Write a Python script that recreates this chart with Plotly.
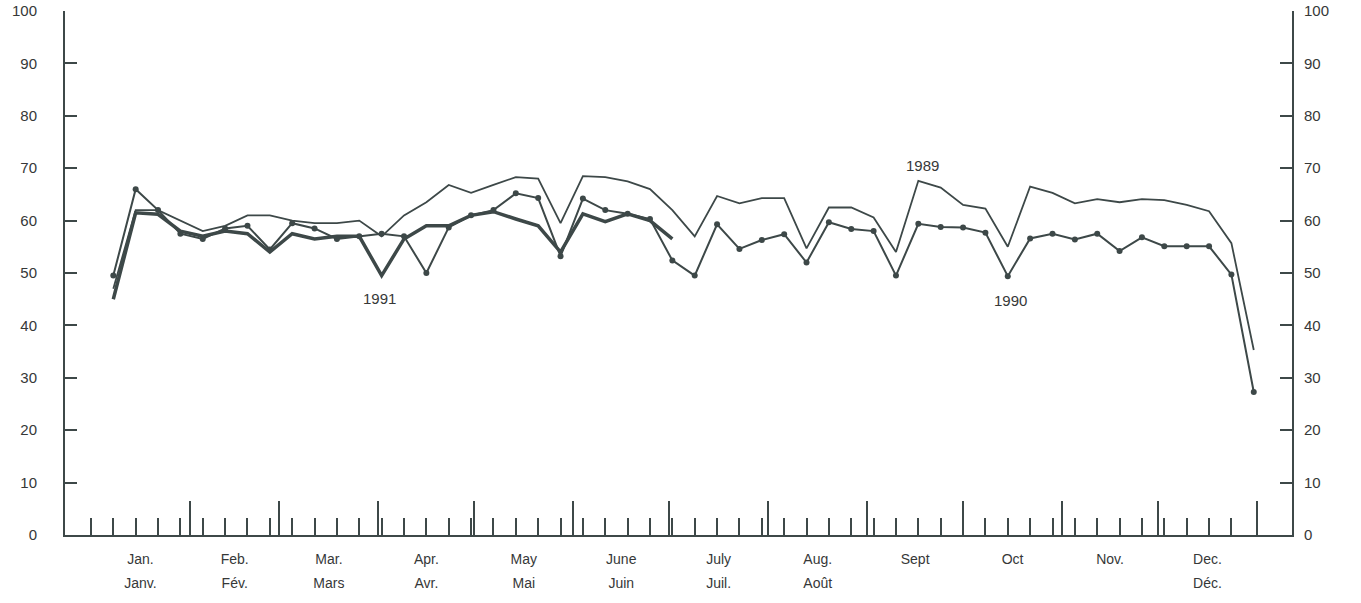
import plotly.graph_objects as go

# ---- data -------------------------------------------------------------
weeks = list(range(1, 53))
weeks_1991 = list(range(1, 27))

v1989 = [47, 62, 62, 60, 58, 59, 61, 61, 60, 59.5, 59.5, 60, 57,
         61, 63.5, 66.8, 65.3, 66.8, 68.3, 68, 59.5, 68.5, 68.3, 67.5, 66,
         62, 57, 64.7, 63.3, 64.3, 64.3, 54.7, 62.5, 62.5, 60.6, 54, 67.6,
         66.3, 63, 62.3, 55, 66.5, 65.3, 63.3, 64.1, 63.5, 64.1, 63.9, 63,
         61.8, 55.7, 35.3]
v1990 = [49.5, 66, 62, 57.5, 56.5, 58.5, 59, 54.5, 59.5, 58.5, 56.5, 57,
         57.5, 57, 50, 58.7, 61, 62, 65.2, 64.3, 53.2, 64.2, 62, 61.3, 60.3,
         52.4, 49.5, 59.3, 54.6, 56.3, 57.4, 52, 59.7, 58.4, 58, 49.5, 59.4,
         58.8, 58.7, 57.7, 49.4, 56.6, 57.5, 56.4, 57.5, 54.2, 56.8, 55.1,
         55.1, 55.1, 49.7, 27.3]
v1991 = [45, 61.5, 61.2, 58, 57, 58, 57.5, 54, 57.5, 56.5, 57, 57, 49.5,
         56.5, 59, 59, 61, 61.7, 60.3, 59, 54, 61.3, 59.8, 61.3, 60, 56.5]

month_end_days = [31, 59, 90, 120, 151, 181, 212, 243, 273, 304, 334, 365]
month_mid_days = [15.5, 45, 74.5, 105, 135.5, 166, 196.5, 227.5, 258, 288.5, 319, 349.5]
month_en = ["Jan.", "Feb.", "Mar.", "Apr.", "May", "June", "July", "Aug.",
            "Sept", "Oct", "Nov.", "Dec."]
month_fr = ["Janv.", "Fév.", "Mars", "Avr.", "Mai", "Juin", "Juil.", "Août",
            "", "", "", "Déc."]
week_ticks = list(range(0, 52))
y_ticks = list(range(0, 101, 10))

# series label annotations: (text, week, value)
series_labels = [("1989", 37.2, 70.6), ("1990", 41.1, 44.8), ("1991", 12.9, 45.2)]

# ---- styling ----------------------------------------------------------
INK = "#3d4848"
TXT = "#363838"
FONT = "Liberation Sans, Arial, Helvetica, sans-serif"
XR = [-1.16, 53.71]

fig = go.Figure()
fig.add_trace(go.Scatter(x=weeks, y=v1989, mode="lines",
                         line=dict(color=INK, width=1.8), name="1989"))
fig.add_trace(go.Scatter(x=weeks, y=v1990, mode="lines+markers",
                         line=dict(color=INK, width=2),
                         marker=dict(size=6, color=INK), name="1990"))
fig.add_trace(go.Scatter(x=weeks_1991, y=v1991, mode="lines",
                         line=dict(color=INK, width=3.5), name="1991"))

for txt, wx, vy in series_labels:
    fig.add_annotation(x=wx, y=vy, text=txt, showarrow=False,
                       font=dict(family=FONT, size=15, color=TXT))

week_x = [w for w in week_ticks]
month_end_x = [d / 7 for d in month_end_days]
month_mid_x = [d / 7 for d in month_mid_days]

overlay_x = dict(range=XR, overlaying="x", side="bottom", showgrid=False,
                 zeroline=False, showline=False, automargin=False,
                 tickmode="array")

fig.update_layout(
    width=1361, height=603,
    margin=dict(l=65, r=69, t=11, b=68),
    paper_bgcolor="white", plot_bgcolor="white",
    showlegend=False,
    font=dict(family=FONT, color=TXT, size=15),
    xaxis=dict(range=XR, showgrid=False, zeroline=False, automargin=False,
               showline=True, linecolor=INK, linewidth=2,
               tickmode="array", tickvals=week_x, ticks="inside",
               ticklen=17, tickwidth=2, tickcolor=INK, showticklabels=False),
    xaxis2=dict(overlay_x, tickvals=month_end_x, ticks="inside",
                ticklen=34, tickwidth=2, tickcolor=INK, showticklabels=False),
    xaxis3=dict(overlay_x, tickvals=month_mid_x, ticktext=month_en,
                ticks="", ticklabelstandoff=14,
                tickfont=dict(size=14, family=FONT, color=TXT)),
    xaxis4=dict(overlay_x, tickvals=month_mid_x, ticktext=month_fr,
                ticks="", ticklabelstandoff=38,
                tickfont=dict(size=14, family=FONT, color=TXT)),
    yaxis=dict(range=[0, 100], showgrid=False, zeroline=False,
               automargin=False, ticklabeloverflow="allow",
               showline=True, linecolor=INK, linewidth=2,
               tickmode="array", tickvals=y_ticks, ticks="inside",
               ticklen=12, tickwidth=2, tickcolor=INK,
               ticklabelstandoff=23,
               tickfont=dict(size=15, family=FONT, color=TXT)),
    yaxis2=dict(range=[0, 100], overlaying="y", side="right", showgrid=False,
                automargin=False, ticklabeloverflow="allow",
                zeroline=False, showline=True, linecolor=INK, linewidth=2,
                tickmode="array", tickvals=y_ticks, ticks="inside",
                ticklen=12, tickwidth=2, tickcolor=INK,
                ticklabelstandoff=7,
                tickfont=dict(size=15, family=FONT, color=TXT)),
)
# invisible anchor traces so the overlay axes are drawn
for xa, ya in (("x2", "y2"), ("x3", "y"), ("x4", "y")):
    fig.add_trace(go.Scatter(x=[XR[0]], y=[0], xaxis=xa, yaxis=ya,
                             mode="markers", marker=dict(opacity=0),
                             hoverinfo="skip"))

fig.write_html(
    "out.html",
    config={"displayModeBar": False},
    post_script="document.body.style.margin='0';"
                "document.body.style.overflow='hidden';",
)
